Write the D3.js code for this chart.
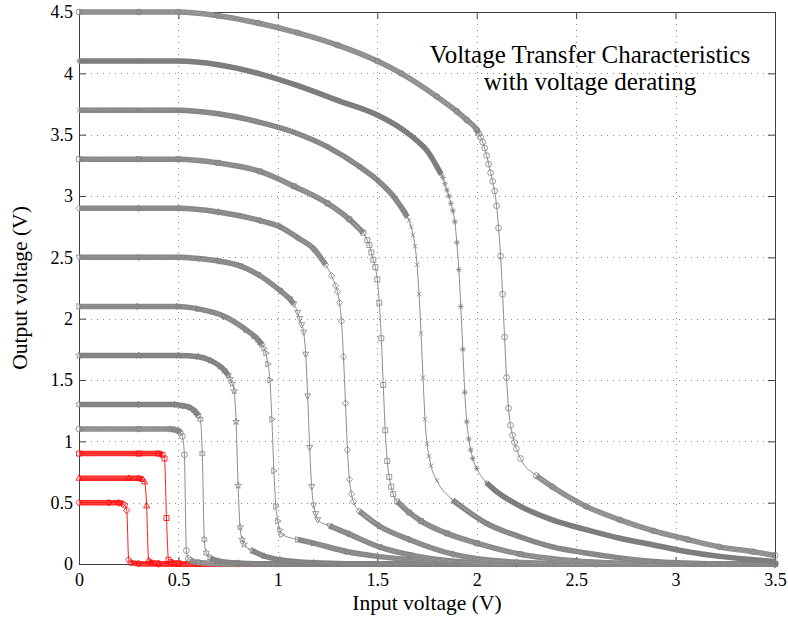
<!DOCTYPE html>
<html>
<head>
<meta charset="utf-8">
<title>Voltage Transfer Characteristics</title>
<script src="https://d3js.org/d3.v7.min.js"></script>
<style>
	body { margin: 0; background: #fff; }
	svg text { font-family: "Liberation Serif", "Times New Roman", Times, serif; fill: #000; }
</style>
</head>
<body>
<svg id="chart" width="788" height="622"></svg>
<script>
	// supply voltage of each curve, top curve first
	var supplies = [4.5, 4.1, 3.7, 3.3, 2.9, 2.5, 2.1, 1.7, 1.3, 1.1, 0.9, 0.7, 0.5];

	// [Vin, Vout] pairs
	var vtc45 = [[0,4.5],[0.3,4.5],[0.5,4.5],[0.7,4.47],[0.9,4.41],[1.1,4.33],[1.3,4.23],[1.5,4.1],[1.62,4.0],[1.8,3.81],[1.9,3.69],[1.95,3.62],[2.0,3.54],[2.01,3.51],[2.02,3.48],[2.03,3.44],[2.04,3.39],[2.05,3.33],[2.06,3.26],[2.07,3.19],[2.08,3.12],[2.09,3.04],[2.1,2.92],[2.11,2.74],[2.12,2.51],[2.13,2.2],[2.14,1.85],[2.15,1.52],[2.16,1.27],[2.17,1.13],[2.18,1.05],[2.19,0.99],[2.2,0.94],[2.22,0.86],[2.3,0.72],[2.38,0.63],[2.55,0.47],[2.72,0.36],[2.89,0.27],[3.06,0.2],[3.22,0.14],[3.39,0.1],[3.5,0.07]];
	var vtc41 = [[0,4.1],[0.3,4.1],[0.5,4.1],[0.7,4.07],[0.9,4.0],[1.1,3.9],[1.3,3.78],[1.5,3.66],[1.62,3.55],[1.7,3.45],[1.75,3.37],[1.8,3.24],[1.82,3.18],[1.83,3.15],[1.84,3.1],[1.85,3.05],[1.86,3.0],[1.87,2.94],[1.88,2.88],[1.89,2.79],[1.9,2.62],[1.91,2.4],[1.92,2.1],[1.93,1.75],[1.94,1.4],[1.95,1.16],[1.96,1.02],[1.97,0.93],[1.98,0.86],[2.0,0.78],[2.05,0.66],[2.1,0.59],[2.22,0.47],[2.38,0.36],[2.55,0.28],[2.72,0.21],[2.89,0.155],[3.06,0.1],[3.22,0.062],[3.39,0.035],[3.5,0.02]];
	var vtc37 = [[0,3.7],[0.3,3.7],[0.5,3.7],[0.7,3.67],[0.91,3.6],[1.08,3.52],[1.25,3.4],[1.41,3.24],[1.5,3.13],[1.58,3.0],[1.62,2.91],[1.64,2.86],[1.65,2.83],[1.66,2.8],[1.67,2.75],[1.68,2.68],[1.69,2.59],[1.7,2.44],[1.71,2.2],[1.72,1.88],[1.73,1.52],[1.74,1.18],[1.75,0.98],[1.76,0.88],[1.77,0.8],[1.8,0.68],[1.88,0.52],[2.05,0.33],[2.22,0.22],[2.38,0.14],[2.55,0.09],[2.72,0.05],[2.89,0.02],[3.05,0.008],[3.22,0],[3.5,0]];
	var vtc33 = [[0,3.3],[0.3,3.3],[0.5,3.3],[0.7,3.27],[0.91,3.2],[1.08,3.08],[1.25,2.94],[1.36,2.81],[1.43,2.7],[1.45,2.64],[1.46,2.6],[1.47,2.54],[1.48,2.48],[1.49,2.42],[1.5,2.32],[1.51,2.13],[1.52,1.84],[1.53,1.46],[1.54,1.09],[1.55,0.84],[1.56,0.71],[1.57,0.63],[1.58,0.57],[1.6,0.51],[1.66,0.42],[1.72,0.35],[1.85,0.25],[2.0,0.17],[2.22,0.08],[2.5,0.025],[2.8,0.005],[3.1,0],[3.5,0]];
	var vtc29 = [[0,2.9],[0.3,2.9],[0.5,2.9],[0.7,2.87],[0.91,2.8],[1.01,2.75],[1.1,2.66],[1.18,2.57],[1.24,2.44],[1.27,2.35],[1.29,2.27],[1.3,2.22],[1.31,2.13],[1.32,1.98],[1.33,1.69],[1.34,1.31],[1.35,0.93],[1.36,0.69],[1.37,0.57],[1.38,0.51],[1.41,0.43],[1.51,0.31],[1.66,0.2],[1.88,0.08],[2.2,0.015],[2.6,0],[3.5,0]];
	var vtc25 = [[0,2.5],[0.3,2.5],[0.5,2.5],[0.6,2.49],[0.7,2.47],[0.81,2.43],[0.9,2.36],[1.01,2.23],[1.06,2.16],[1.08,2.12],[1.1,2.05],[1.11,2.0],[1.12,1.95],[1.13,1.89],[1.14,1.71],[1.15,1.37],[1.16,0.95],[1.17,0.63],[1.18,0.48],[1.19,0.41],[1.2,0.36],[1.26,0.31],[1.35,0.25],[1.51,0.14],[1.66,0.076],[1.9,0.02],[2.2,0],[3.5,0]];
	var vtc21 = [[0,2.1],[0.3,2.1],[0.5,2.1],[0.6,2.08],[0.73,2.02],[0.84,1.91],[0.88,1.86],[0.9,1.83],[0.91,1.81],[0.92,1.79],[0.93,1.76],[0.94,1.72],[0.95,1.63],[0.96,1.5],[0.97,1.18],[0.98,0.76],[0.99,0.47],[1.0,0.35],[1.01,0.28],[1.02,0.24],[1.1,0.2],[1.18,0.17],[1.35,0.1],[1.51,0.06],[1.8,0.02],[2.1,0.005],[2.4,0],[3.5,0]];
	var vtc17 = [[0,1.7],[0.3,1.7],[0.5,1.7],[0.6,1.69],[0.66,1.66],[0.71,1.61],[0.73,1.58],[0.75,1.54],[0.76,1.51],[0.77,1.47],[0.78,1.41],[0.79,1.16],[0.8,0.64],[0.81,0.3],[0.82,0.2],[0.83,0.16],[0.87,0.11],[0.93,0.065],[1.01,0.035],[1.18,0.01],[1.5,0],[3.5,0]];
	var vtc13 = [[0,1.3],[0.3,1.3],[0.48,1.3],[0.52,1.29],[0.55,1.28],[0.58,1.25],[0.59,1.23],[0.6,1.21],[0.61,1.18],[0.62,0.9],[0.63,0.2],[0.64,0.09],[0.66,0.05],[0.7,0.025],[0.8,0.008],[1.0,0],[3.5,0]];
	var vtc11 = [[0,1.1],[0.3,1.1],[0.46,1.1],[0.48,1.095],[0.5,1.085],[0.51,1.07],[0.52,1.04],[0.53,0.89],[0.54,0.11],[0.55,0.045],[0.56,0.03],[0.6,0.012],[0.7,0.003],[0.8,0],[3.5,0]];
	var vtc09 = [[0,0.9],[0.3,0.9],[0.4,0.9],[0.42,0.89],[0.43,0.86],[0.44,0.375],[0.45,0.035],[0.46,0.015],[0.5,0.005],[0.6,0],[3.5,0]];
	var vtc07 = [[0,0.7],[0.25,0.7],[0.3,0.7],[0.32,0.69],[0.33,0.67],[0.34,0.475],[0.35,0.03],[0.36,0.015],[0.4,0.005],[0.5,0],[3.5,0]];
	var vtc05 = [[0,0.5],[0.15,0.5],[0.2,0.499],[0.22,0.49],[0.23,0.48],[0.24,0.437],[0.25,0.035],[0.26,0.01],[0.3,0.003],[0.4,0],[3.5,0]];

	var curves = [vtc45, vtc41, vtc37, vtc33, vtc29, vtc25, vtc21, vtc17, vtc13, vtc11, vtc09, vtc07, vtc05];

	var xTicks = [0, 0.5, 1, 1.5, 2, 2.5, 3, 3.5];
	var yTicks = [0, 0.5, 1, 1.5, 2, 2.5, 3, 3.5, 4, 4.5];
	var xTickLabels = ['0', '0.5', '1', '1.5', '2', '2.5', '3', '3.5'];
	var yTickLabels = ['0', '0.5', '1', '1.5', '2', '2.5', '3', '3.5', '4', '4.5'];

	var titleLines = ['Voltage Transfer Characteristics', 'with voltage derating'];
	var xLabel = 'Input voltage (V)';
	var yLabel = 'Output voltage (V)';

	// look of each curve
	var markerKinds = ['circle', 'asterisk', 'times', 'square', 'diamond', 'triDown', 'triRight', 'pentagram', 'hexagram', 'circle', 'square', 'triUp', 'diamond'];
	var lineColors = ['#808080','#808080','#808080','#808080','#808080','#808080','#808080','#808080','#808080','#808080','#ff0000','#ff0000','#ff0000'];
	var bandColors = ['#8e8e8e','#7c7c7c','#858585','#8a8a8a','#888888','#888888','#888888','#828282','#828282','#8e8e8e','#ff2a2a','#ff2a2a','#ff2a2a'];
	// lighter middle of the band where hollow markers overlap (null = solid)
	var bandCores = ['#c2c2c2', null, '#a8a8a8', '#b8b8b8', '#b4b4b4', '#b4b4b4', '#b0b0b0', '#a0a0a0', '#a0a0a0', '#c2c2c2', '#ffa0a0', '#ffa0a0', '#ffa0a0'];

	const W = 788, H = 622;
	const LEFT = 79, RIGHT = 775, TOP = 12, BOTTOM = 564;
	const TICK = 7;
	const SERIF = '"Liberation Serif", "Times New Roman", Times, serif';

	var x = d3.scaleLinear().domain([0, 3.5]).range([LEFT, RIGHT]);
	var y = d3.scaleLinear().domain([0, 4.5]).range([BOTTOM, TOP]);

	var svg = d3.select('#chart');
	svg.append('rect').attr('width', W).attr('height', H).attr('fill', '#fff');

	// dotted grid
	var grid = svg.append('g').attr('class', 'grid');
	grid.selectAll('line.gx')
		.data(xTicks.filter(function(d) { return d > 0 && d < 3.5; }))
	  .enter().append('line')
		.attr('x1', function(d) { return Math.round(x(d)) + 0.5; })
		.attr('x2', function(d) { return Math.round(x(d)) + 0.5; })
		.attr('y1', TOP).attr('y2', BOTTOM);
	grid.selectAll('line.gy')
		.data(yTicks.filter(function(d) { return d > 0 && d < 4.5; }))
	  .enter().append('line')
		.attr('y1', function(d) { return Math.round(y(d)) + 0.5; })
		.attr('y2', function(d) { return Math.round(y(d)) + 0.5; })
		.attr('x1', LEFT).attr('x2', RIGHT);
	grid.selectAll('line')
		.attr('stroke', '#8a8a8a')
		.attr('stroke-width', 1)
		.attr('stroke-dasharray', '1,5');

	// axes box with inward ticks on all four sides
	function styleAxis(g) {
		g.attr('font-family', null).attr('font-size', null);
		g.select('.domain').attr('stroke', '#404040');
		g.selectAll('.tick line').attr('stroke', '#404040');
		g.selectAll('.tick text')
			.attr('fill', '#000')
			.style('font-family', SERIF)
			.style('font-size', '18px');
	}
	svg.append('g')
		.attr('transform', 'translate(0,' + BOTTOM + ')')
		.call(d3.axisBottom(x).tickValues(xTicks).tickSizeInner(-TICK).tickSizeOuter(0).tickPadding(9)
			.tickFormat(function(d, i) { return xTickLabels[i]; }))
		.call(styleAxis);
	svg.append('g')
		.attr('transform', 'translate(' + LEFT + ',0)')
		.call(d3.axisLeft(y).tickValues(yTicks).tickSizeInner(-TICK).tickSizeOuter(0).tickPadding(6)
			.tickFormat(function(d, i) { return yTickLabels[i]; }))
		.call(styleAxis);
	svg.append('g')
		.attr('transform', 'translate(0,' + TOP + ')')
		.call(d3.axisTop(x).tickValues(xTicks).tickSizeInner(-TICK).tickSizeOuter(0).tickFormat(''))
		.call(styleAxis);
	svg.append('g')
		.attr('transform', 'translate(' + RIGHT + ',0)')
		.call(d3.axisRight(y).tickValues(yTicks).tickSizeInner(-TICK).tickSizeOuter(0).tickFormat(''))
		.call(styleAxis);

	// marker outlines
	function starPath(p, n, r, inner, rot) {
		for (var k = 0; k < 2 * n; k++) {
			var a = rot + k * Math.PI / n;
			var rr = (k % 2 === 0) ? r : inner;
			if (k === 0) p.moveTo(rr * Math.cos(a), rr * Math.sin(a));
			else p.lineTo(rr * Math.cos(a), rr * Math.sin(a));
		}
		p.closePath();
	}
	function markerPath(kind) {
		var p = d3.path();
		var r = 2.9;
		if (kind === 'circle') {
			p.moveTo(r, 0); p.arc(0, 0, r, 0, 2 * Math.PI);
		} else if (kind === 'square') {
			p.rect(-2.5, -2.5, 5, 5);
		} else if (kind === 'diamond') {
			p.moveTo(0, -3.4); p.lineTo(3.1, 0); p.lineTo(0, 3.4); p.lineTo(-3.1, 0); p.closePath();
		} else if (kind === 'times') {
			p.moveTo(-2.3, -2.3); p.lineTo(2.3, 2.3); p.moveTo(-2.3, 2.3); p.lineTo(2.3, -2.3);
		} else if (kind === 'asterisk') {
			p.moveTo(0, -r); p.lineTo(0, r); p.moveTo(-r, 0); p.lineTo(r, 0);
			p.moveTo(-2.1, -2.1); p.lineTo(2.1, 2.1); p.moveTo(-2.1, 2.1); p.lineTo(2.1, -2.1);
		} else if (kind === 'triUp') {
			p.moveTo(0, -3.3); p.lineTo(3, 2.1); p.lineTo(-3, 2.1); p.closePath();
		} else if (kind === 'triDown') {
			p.moveTo(0, 3.3); p.lineTo(3, -2.1); p.lineTo(-3, -2.1); p.closePath();
		} else if (kind === 'triRight') {
			p.moveTo(3.3, 0); p.lineTo(-2.1, 3); p.lineTo(-2.1, -3); p.closePath();
		} else if (kind === 'pentagram') {
			starPath(p, 5, 3.5, 1.45, -Math.PI / 2);
		} else if (kind === 'hexagram') {
			starPath(p, 6, 3.3, 1.9, -Math.PI / 2);
		}
		return p.toString();
	}

	// a segment counts as "flat" when markers 0.01 V apart would still overlap
	function isFlat(a, b) {
		var dx = Math.abs(x(b[0]) - x(a[0])), dy = Math.abs(y(b[1]) - y(a[1]));
		return dy <= 2.4 * dx;
	}

	var band = d3.line()
		.x(function(d) { return x(d[0]); })
		.y(function(d) { return y(d[1]); })
		.curve(d3.curveMonotoneX);
	var thin = d3.line()
		.x(function(d) { return x(d[0]); })
		.y(function(d) { return y(d[1]); })
		.curve(d3.curveMonotoneX);

	// red curves first, then the grey ones from the bottom up
	var order = d3.range(curves.length).reverse();
	var plot = svg.append('g').attr('class', 'curves');

	order.forEach(function(ci) {
		var data = curves[ci];
		var g = plot.append('g').attr('class', 'vtc').attr('data-vdd', supplies[ci]);

		band.defined(function(d, i) {
			var ok = true;
			if (i > 0) ok = ok && isFlat(data[i - 1], d);
			if (i < data.length - 1) ok = ok && isFlat(d, data[i + 1]);
			return ok;
		});
		var bandPath = band(data);
		g.append('path')
			.attr('d', bandPath)
			.attr('fill', 'none')
			.attr('stroke', bandColors[ci])
			.attr('stroke-width', 5.5);
		if (bandCores[ci]) {
			g.append('path')
				.attr('d', bandPath)
				.attr('fill', 'none')
				.attr('stroke', bandCores[ci])
				.attr('stroke-width', 1.6)
				.attr('stroke-dasharray', '1.5,0.8');
		}

		g.append('path')
			.attr('d', thin(data))
			.attr('fill', 'none')
			.attr('stroke', lineColors[ci])
			.attr('stroke-width', 0.9);

		var shape = markerPath(markerKinds[ci]);
		g.selectAll('path.mk')
			.data(data)
		  .enter().append('path')
			.attr('class', 'mk')
			.attr('d', shape)
			.attr('transform', function(d) { return 'translate(' + x(d[0]) + ',' + y(d[1]) + ')'; })
			.attr('fill', 'none')
			.attr('stroke', lineColors[ci])
			.attr('stroke-width', 0.8);
	});

	// labels
	svg.append('text')
		.attr('x', (LEFT + RIGHT) / 2)
		.attr('y', 610)
		.attr('text-anchor', 'middle')
		.style('font-family', SERIF)
		.style('font-size', '21.5px')
		.text(xLabel);
	svg.append('text')
		.attr('transform', 'translate(27,' + (TOP + BOTTOM) / 2 + ') rotate(-90)')
		.attr('text-anchor', 'middle')
		.style('font-family', SERIF)
		.style('font-size', '21.5px')
		.text(yLabel);

	svg.selectAll('text.title')
		.data(titleLines)
	  .enter().append('text')
		.attr('class', 'title')
		.attr('x', 590)
		.attr('y', function(d, i) { return 63 + i * 27; })
		.attr('text-anchor', 'middle')
		.style('font-family', SERIF)
		.style('font-size', '25px')
		.text(function(d) { return d; });
</script>
</body>
</html>
